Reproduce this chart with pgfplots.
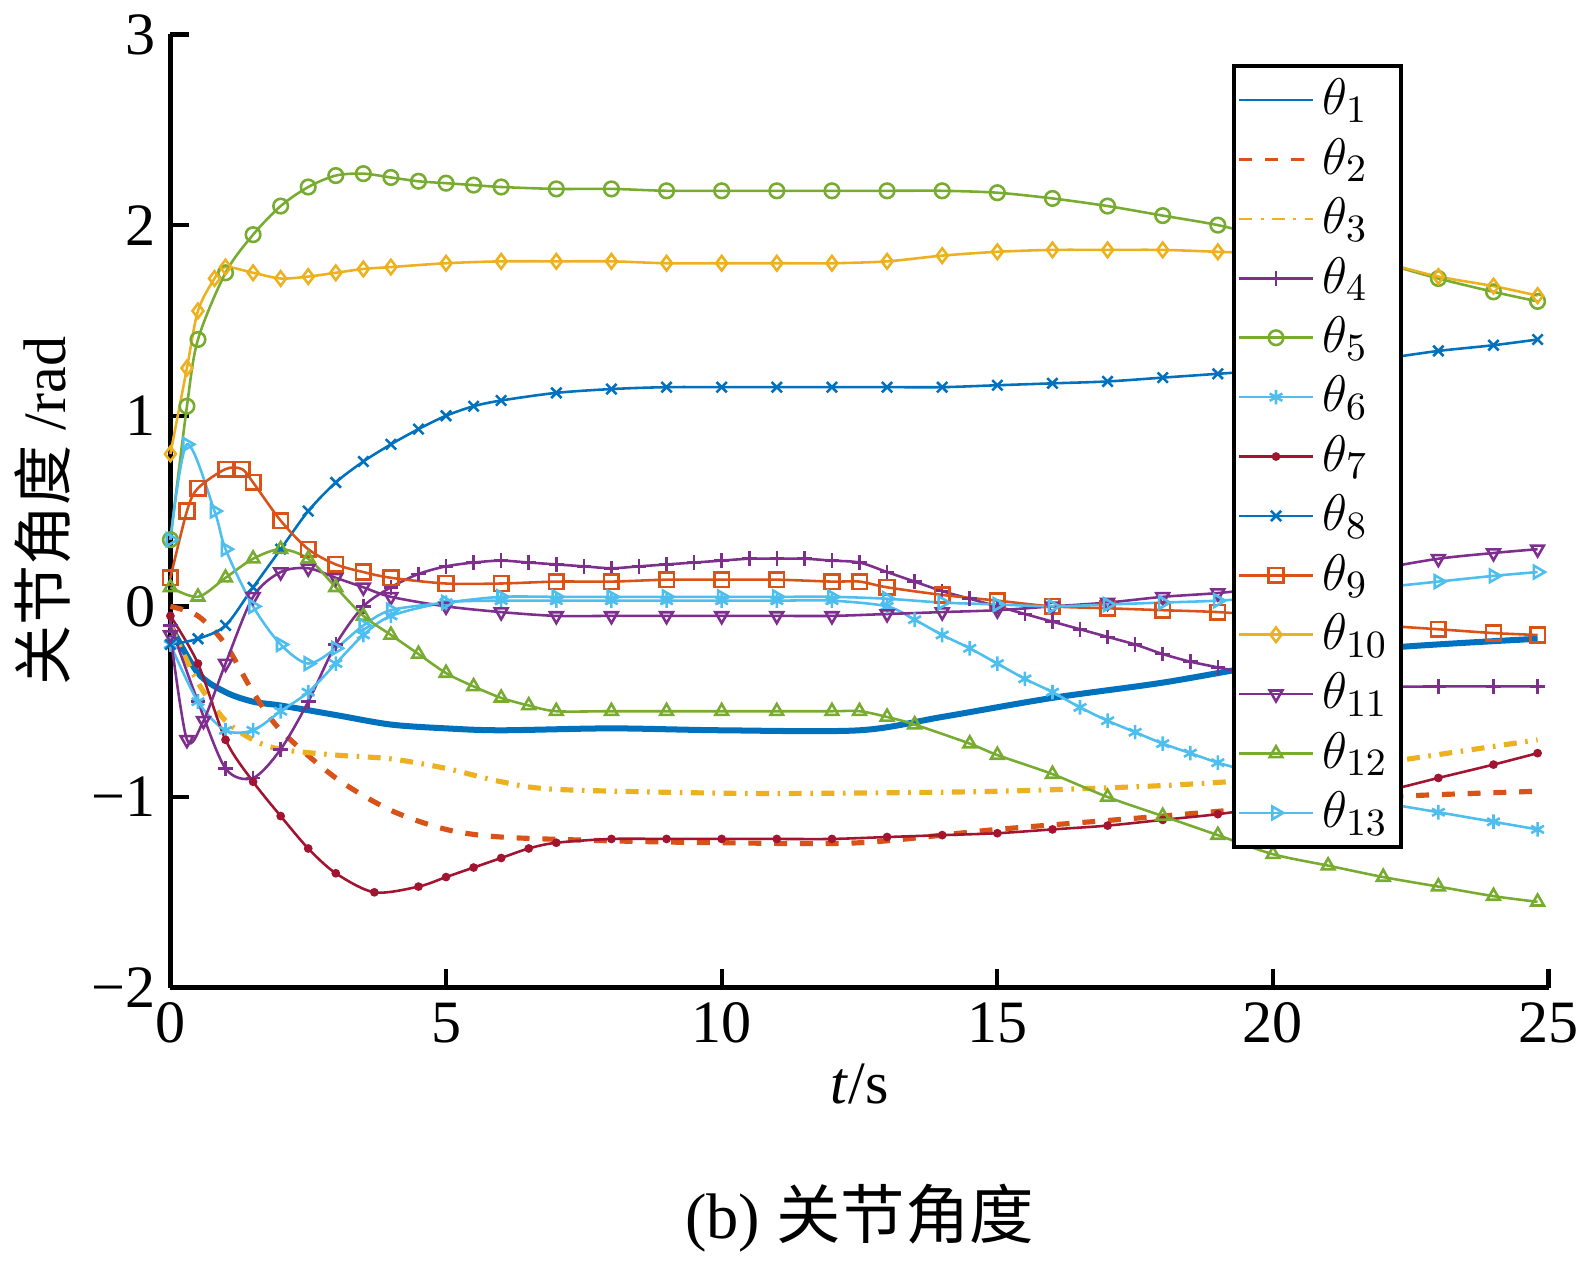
\documentclass[border=0pt]{standalone}
\usepackage{pgfplots}
\pgfplotsset{compat=1.18}
\usepackage{fontspec}
\setmainfont{Liberation Serif}
\newfontfamily\cjk{Noto Sans CJK SC}
\definecolor{c1}{RGB}{0,114,189}
\definecolor{c2}{RGB}{217,83,25}
\definecolor{c3}{RGB}{237,177,32}
\definecolor{c4}{RGB}{126,47,142}
\definecolor{c5}{RGB}{119,172,48}
\definecolor{c6}{RGB}{77,190,238}
\definecolor{c7}{RGB}{162,20,47}
\begin{document}
\begin{tikzpicture}
\begin{axis}[
  width=321pt, height=222pt, scale only axis,
  xmin=0, xmax=25, ymin=-2, ymax=3,
  axis lines=left, axis line style={-, line width=1pt},
  tick style={black, line width=1pt}, tick align=inside,
  xtick={0,5,10,15,20,25}, ytick={-2,-1,0,1,2,3},
  yticklabels={−2,−1,0,1,2,3},
  font=\fontsize{14}{16}\selectfont,
  /pgf/number format/assume math mode=true,
  xlabel={\textit{t}/s}, ylabel={{\cjk 关节角度} /rad},
  xlabel style={yshift=2pt},
  ylabel style={yshift=-2pt},
  every axis plot/.append style={line width=0.6pt, mark size=1.7pt, smooth, tension=0.5},
  legend style={at={(0.77,0.969)}, anchor=north west, draw=black, line width=1pt,
    font=\fontsize{12.5}{12.5}\selectfont, row sep=0pt, inner sep=1pt},
  legend cell align=left,
  legend image post style={line width=0.6pt},
  clip=false,
]
\addplot[c1, line width=1.4pt] coordinates {(0,-0.1)(0.5,-0.35)(1,-0.45)(1.5,-0.5)(2,-0.52)(3,-0.57)(4,-0.62)(5,-0.64)(6,-0.65)(8,-0.64)(10,-0.65)(12.5,-0.65)(14,-0.58)(16,-0.48)(18,-0.4)(20,-0.3)(22,-0.22)(24.8,-0.17)};
\addlegendentry{$\theta_1$}
\addplot[c2, dashed, line width=1.2pt] coordinates {(0,0)(0.5,-0.05)(1,-0.2)(1.5,-0.45)(2,-0.65)(3,-0.9)(4,-1.07)(5,-1.17)(6,-1.21)(8,-1.23)(10,-1.24)(12.5,-1.24)(15,-1.17)(18,-1.1)(20,-1.05)(22,-1.0)(24.8,-0.97)};
\addlegendentry{$\theta_2$}
\addplot[c3, dash dot, line width=1.2pt] coordinates {(0,-0.1)(0.5,-0.4)(1,-0.6)(1.5,-0.7)(2,-0.75)(3,-0.78)(4,-0.8)(5,-0.85)(6,-0.92)(7,-0.96)(10,-0.98)(12,-0.98)(15,-0.97)(18,-0.94)(20,-0.9)(22,-0.82)(24.8,-0.7)};
\addlegendentry{$\theta_3$}
\addplot[c4, mark=+] coordinates {(0,-0.1)(0.5,-0.5)(1,-0.85)(1.5,-0.9)(2,-0.75)(2.5,-0.5)(3,-0.2)(3.5,0)(4,0.1)(4.5,0.17)(5,0.21)(5.5,0.23)(6,0.24)(6.5,0.23)(7,0.22)(7.5,0.21)(8,0.2)(8.5,0.21)(9,0.22)(9.5,0.23)(10,0.24)(10.5,0.25)(11,0.25)(11.5,0.25)(12,0.24)(12.5,0.23)(13,0.18)(13.5,0.13)(14,0.08)(14.5,0.04)(15,0)(15.5,-0.04)(16,-0.08)(16.5,-0.12)(17,-0.16)(17.5,-0.2)(18,-0.25)(18.5,-0.29)(19,-0.32)(19.5,-0.35)(20,-0.38)(21,-0.4)(22,-0.42)(23,-0.42)(24,-0.42)(24.8,-0.42)};
\addlegendentry{$\theta_4$}
\addplot[c5, mark=o] coordinates {(0,0.35)(0.3,1.05)(0.5,1.4)(1,1.75)(1.5,1.95)(2,2.1)(2.5,2.2)(3,2.26)(3.5,2.27)(4,2.25)(4.5,2.23)(5,2.22)(5.5,2.21)(6,2.2)(7,2.19)(8,2.19)(9,2.18)(10,2.18)(11,2.18)(12,2.18)(13,2.18)(14,2.18)(15,2.17)(16,2.14)(17,2.1)(18,2.05)(19,2.0)(20,1.93)(21,1.87)(22,1.8)(23,1.72)(24,1.65)(24.8,1.6)};
\addlegendentry{$\theta_5$}
\addplot[c6, mark=asterisk] coordinates {(0,-0.2)(0.5,-0.5)(1,-0.65)(1.5,-0.65)(2,-0.55)(2.5,-0.45)(3,-0.3)(3.5,-0.15)(4,-0.05)(5,0.02)(6,0.03)(7,0.03)(8,0.03)(9,0.03)(10,0.03)(11,0.03)(12,0.03)(13,0)(13.5,-0.07)(14,-0.15)(14.5,-0.22)(15,-0.3)(15.5,-0.38)(16,-0.45)(16.5,-0.53)(17,-0.6)(17.5,-0.66)(18,-0.72)(18.5,-0.77)(19,-0.82)(19.5,-0.86)(20,-0.9)(21,-0.97)(22,-1.03)(23,-1.08)(24,-1.13)(24.8,-1.17)};
\addlegendentry{$\theta_6$}
\addplot[c7, mark=*, mark size=0.7pt] coordinates {(0,-0.05)(0.5,-0.3)(1,-0.7)(1.5,-0.92)(2,-1.1)(2.5,-1.27)(3,-1.4)(3.7,-1.5)(4.5,-1.47)(5,-1.42)(5.5,-1.37)(6,-1.32)(6.5,-1.27)(7,-1.24)(8,-1.22)(9,-1.22)(10,-1.22)(11,-1.22)(12,-1.22)(13,-1.21)(14,-1.2)(15,-1.19)(16,-1.17)(17,-1.15)(18,-1.12)(19,-1.09)(20,-1.05)(21,-1.01)(22,-0.97)(23,-0.9)(24,-0.83)(24.8,-0.77)};
\addlegendentry{$\theta_7$}
\addplot[c1, mark=x] coordinates {(0,-0.2)(0.5,-0.17)(1,-0.1)(1.5,0.1)(2,0.3)(2.5,0.5)(3,0.65)(3.5,0.76)(4,0.85)(4.5,0.93)(5,1.0)(5.5,1.05)(6,1.08)(7,1.12)(8,1.14)(9,1.15)(10,1.15)(11,1.15)(12,1.15)(13,1.15)(14,1.15)(15,1.16)(16,1.17)(17,1.18)(18,1.2)(19,1.22)(20,1.24)(21,1.27)(22,1.3)(23,1.34)(24,1.37)(24.8,1.4)};
\addlegendentry{$\theta_8$}
\addplot[c2, mark=square] coordinates {(0,0.15)(0.3,0.5)(0.5,0.62)(1,0.72)(1.3,0.72)(1.5,0.65)(2,0.45)(2.5,0.3)(3,0.22)(3.5,0.18)(4,0.15)(5,0.12)(6,0.12)(7,0.13)(8,0.13)(9,0.14)(10,0.14)(11,0.14)(12,0.13)(12.5,0.13)(13,0.1)(14,0.06)(15,0.03)(16,0)(17,-0.01)(18,-0.02)(19,-0.03)(20,-0.05)(21,-0.07)(22,-0.1)(23,-0.12)(24,-0.14)(24.8,-0.15)};
\addlegendentry{$\theta_9$}
\addplot[c3, mark=diamond] coordinates {(0,0.8)(0.3,1.25)(0.5,1.55)(0.8,1.72)(1,1.78)(1.5,1.75)(2,1.72)(2.5,1.73)(3,1.75)(3.5,1.77)(4,1.78)(5,1.8)(6,1.81)(7,1.81)(8,1.81)(9,1.8)(10,1.8)(11,1.8)(12,1.8)(13,1.81)(14,1.84)(15,1.86)(16,1.87)(17,1.87)(18,1.87)(19,1.86)(20,1.85)(21,1.83)(22,1.8)(23,1.73)(24,1.68)(24.8,1.63)};
\addlegendentry{$\theta_{10}$}
\addplot[c4, mark=triangle, mark options={rotate=180}] coordinates {(0,-0.15)(0.3,-0.7)(0.6,-0.6)(1,-0.3)(1.5,0.05)(2,0.18)(2.5,0.2)(3,0.15)(3.5,0.1)(4,0.05)(5,0)(6,-0.03)(7,-0.05)(8,-0.05)(9,-0.05)(10,-0.05)(11,-0.05)(12,-0.05)(13,-0.04)(14,-0.03)(15,-0.02)(16,0)(17,0.02)(18,0.05)(19,0.07)(20,0.1)(21,0.14)(22,0.2)(23,0.25)(24,0.28)(24.8,0.3)};
\addlegendentry{$\theta_{11}$}
\addplot[c5, mark=triangle] coordinates {(0,0.1)(0.5,0.05)(1,0.15)(1.5,0.25)(2,0.3)(2.5,0.25)(3,0.1)(3.5,-0.05)(4,-0.15)(4.5,-0.25)(5,-0.35)(5.5,-0.42)(6,-0.48)(6.5,-0.52)(7,-0.55)(8,-0.55)(9,-0.55)(10,-0.55)(11,-0.55)(12,-0.55)(12.5,-0.55)(13,-0.58)(13.5,-0.62)(14.5,-0.72)(15,-0.78)(16,-0.88)(17,-1.0)(18,-1.1)(19,-1.2)(20,-1.3)(21,-1.36)(22,-1.42)(23,-1.47)(24,-1.52)(24.8,-1.55)};
\addlegendentry{$\theta_{12}$}
\addplot[c6, mark=triangle, mark options={rotate=-90}] coordinates {(0,0.35)(0.3,0.85)(0.8,0.5)(1,0.3)(1.5,0)(2,-0.2)(2.5,-0.3)(3,-0.22)(3.5,-0.1)(4,-0.02)(5,0.02)(6,0.05)(7,0.05)(8,0.05)(9,0.05)(10,0.05)(11,0.05)(12,0.05)(13,0.04)(14,0.02)(15,0.01)(16,0)(17,0.01)(18,0.02)(19,0.03)(20,0.05)(21,0.07)(22,0.1)(23,0.13)(24,0.16)(24.8,0.18)};
\addlegendentry{$\theta_{13}$}
\node[anchor=north, font=\fontsize{15}{17}\selectfont] at (axis description cs:0.5,-0.19) {(b) {\cjk 关节角度}};
\end{axis}
\end{tikzpicture}
\end{document}
